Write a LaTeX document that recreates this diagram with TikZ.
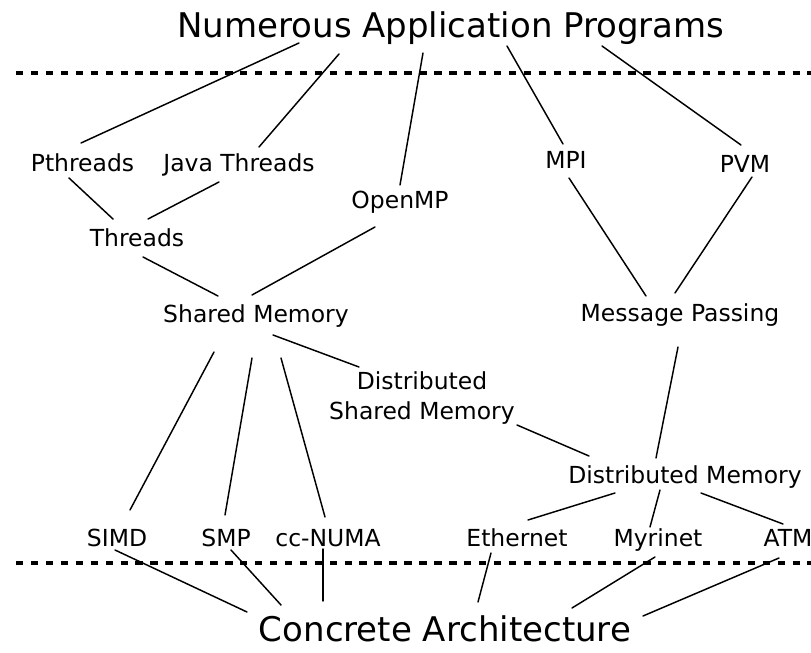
\documentclass[tikz,border=0pt]{standalone}
\usepackage{fontspec}
\setmainfont{DejaVu Sans}
\tikzstyle{lbl} = [inner sep=0pt, font=\fontsize{17.6}{21.8}\selectfont]
\tikzstyle{layer_name} = [inner sep=0pt, font=\fontsize{25.5}{30}\selectfont]
\tikzstyle{link} = [line width=1.1pt, line cap=round]
\tikzstyle{layer} = [line width=2.3pt, dash pattern=on 5.6pt off 5.6pt]

\begin{document}
\begin{tikzpicture}[x=0.75pt, y=-0.75pt]
\useasboundingbox (0,0) rectangle (811,653);

% Camadas
\node (App) [layer_name, anchor=base] at (451,37) {Numerous Application Programs};
\node (Concrete) [layer_name, anchor=base] at (445,641) {Concrete Architecture};
\coordinate (Top_L) at (16,73);
\coordinate (Top_R) at (811,73);
\coordinate (Bot_L) at (16,563);
\coordinate (Bot_R) at (811,563);
\draw [layer] (Top_L) -- (Top_R);
\draw [layer] (Bot_L) -- (Bot_R);

% Modelos de programacao
\node (Pthreads) [lbl, anchor=base] at (82.5,171) {Pthreads};
\node (Java_Threads) [lbl, anchor=base] at (239,171) {Java Threads};
\node (OpenMP) [lbl, anchor=base] at (400,208) {OpenMP};
\node (MPI) [lbl, anchor=base] at (566,168) {MPI};
\node (PVM) [lbl, anchor=base] at (745,172) {PVM};
\node (Threads) [lbl, anchor=base] at (137,246) {Threads};
\node (Shared_Mem) [lbl, anchor=base] at (256,322) {Shared Memory};
\node (Msg_Pass) [lbl, anchor=base] at (680,321) {Message Passing};
\node (DSM) [lbl, align=center] at (422,398) {Distributed\\Shared Memory};
\node (Dist_Mem) [lbl, anchor=base] at (685,483) {Distributed Memory};

% Hardware
\node (SIMD) [lbl, anchor=base] at (117,546) {SIMD};
\node (SMP) [lbl, anchor=base] at (226,546) {SMP};
\node (ccNUMA) [lbl, anchor=base] at (328,546) {cc-NUMA};
\node (Ethernet) [lbl, anchor=base] at (517,546) {Ethernet};
\node (Myrinet) [lbl, anchor=base] at (658,546) {Myrinet};
\node (ATM) [lbl, anchor=base] at (788,546) {ATM};

% Connections
\draw [link] ([shift={(-152,6)}]App.base) -- ([shift={(-1.5,-28)}]Pthreads.base);
\draw [link] ([shift={(-112,17)}]App.base) -- ([shift={(20,-24)}]Java_Threads.base);
\draw [link] ([shift={(-28,16)}]App.base) -- ([shift={(0,-23)}]OpenMP.base);
\draw [link] ([shift={(56,9)}]App.base) -- ([shift={(-3,-24)}]MPI.base);
\draw [link] ([shift={(151,9)}]App.base) -- ([shift={(-4,-27)}]PVM.base);
\draw [link] ([shift={(-13.5,7)}]Pthreads.base) -- ([shift={(-24,-27)}]Threads.base);
\draw [link] ([shift={(-20,11)}]Java_Threads.base) -- ([shift={(11,-27)}]Threads.base);
\draw [link] ([shift={(6,11)}]Threads.base) -- ([shift={(-38,-26)}]Shared_Mem.base);
\draw [link] ([shift={(-25,19)}]OpenMP.base) -- ([shift={(-4,-27)}]Shared_Mem.base);
\draw [link] ([shift={(3,10)}]MPI.base) -- ([shift={(-34,-25)}]Msg_Pass.base);
\draw [link] ([shift={(7,5)}]PVM.base) -- ([shift={(-5,-28)}]Msg_Pass.base);
\draw [link] ([shift={(-42,30)}]Shared_Mem.base) -- ([shift={(13,-36)}]SIMD.base);
\draw [link] ([shift={(-4,36)}]Shared_Mem.base) -- ([shift={(-1,-31)}]SMP.base);
\draw [link] ([shift={(25,36)}]Shared_Mem.base) -- ([shift={(-3,-29)}]ccNUMA.base);
\draw [link] ([shift={(17,13)}]Shared_Mem.base) -- ([shift={(-63,-31)}]DSM.center);
\draw [link] ([shift={(95,27)}]DSM.center) -- ([shift={(-96,-27)}]Dist_Mem.base);
\draw [link] ([shift={(-2,26)}]Msg_Pass.base) -- ([shift={(-29,-25)}]Dist_Mem.base);
\draw [link] ([shift={(-70,10)}]Dist_Mem.base) -- ([shift={(11,-26)}]Ethernet.base);
\draw [link] ([shift={(-25,7)}]Dist_Mem.base) -- ([shift={(-8,-19)}]Myrinet.base);
\draw [link] ([shift={(16,10)}]Dist_Mem.base) -- ([shift={(-5,-22)}]ATM.base);

% Final Connections
\draw [link] ([shift={(-2,4)}]SIMD.base) -- ([shift={(-198,-29)}]Concrete.base);
\draw [link] ([shift={(5,4)}]SMP.base) -- ([shift={(-164,-36)}]Concrete.base);
\draw [link] ([shift={(-5,3)}]ccNUMA.base) -- ([shift={(-122,-40)}]Concrete.base);
\draw [link] ([shift={(-26,7)}]Ethernet.base) -- ([shift={(33,-39)}]Concrete.base);
\draw [link] ([shift={(-3,11)}]Myrinet.base) -- ([shift={(127,-33)}]Concrete.base);
\draw [link] ([shift={(-9,12)}]ATM.base) -- ([shift={(198,-25)}]Concrete.base);

\end{tikzpicture}
\end{document}
